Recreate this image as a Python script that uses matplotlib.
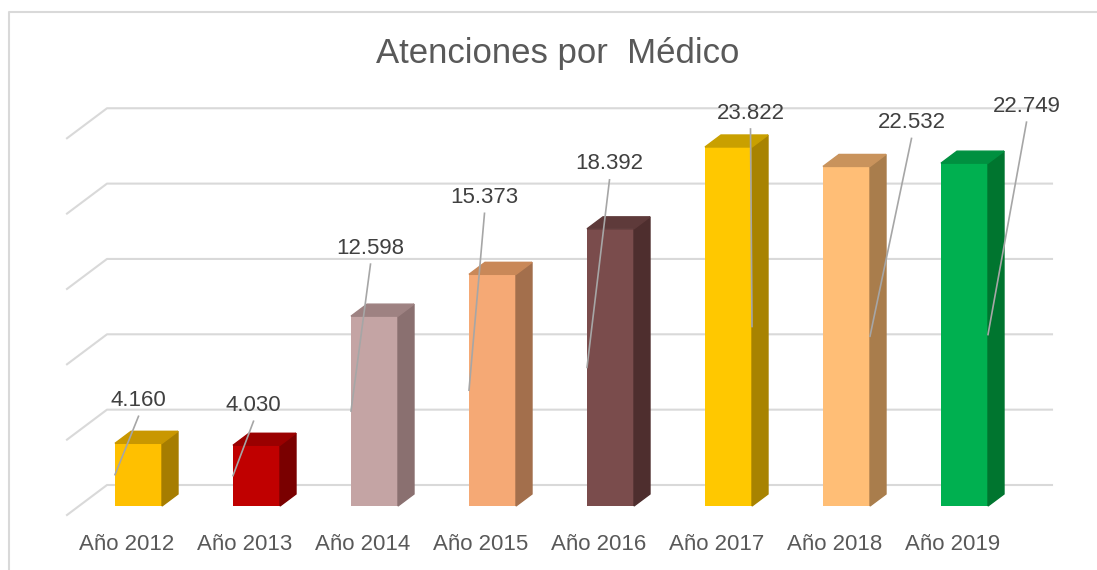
import numpy as np
import matplotlib.pyplot as plt
from matplotlib.patches import Polygon

plt.rcParams['font.family'] = ['Liberation Sans', 'DejaVu Sans']

# data
years = ['Año 2012', 'Año 2013', 'Año 2014', 'Año 2015',
         'Año 2016', 'Año 2017', 'Año 2018', 'Año 2019']
values = [4160, 4030, 12598, 15373, 18392, 23822, 22532, 22749]
front_colors = ['#FFC000', '#C00000', '#C4A4A4', '#F5A975',
                '#7A4C4C', '#FFC800', '#FFBE76', '#00B050']
side_colors = ['#A67D00', '#7A0000', '#8A7070', '#A36F4C',
               '#4E2E2E', '#A88300', '#A97D4C', '#00752F']
top_colors = ['#C99700', '#9A0000', '#9E8282', '#C98858',
              '#5E3A3A', '#C9A000', '#C9935C', '#009040']

# label placement (pixels from bar top centre) and leader side
label_off = [(0, 43), (-3, 40), (-4, 68), (-8, 77),
             (-1, 65), (22, 34), (65, 44), (62, 57)]
leader_side = [-1, -1, -1, -1, -1, 1, 1, 1]

W, H = 1097, 570
fig = plt.figure(figsize=(W / 100, H / 100), dpi=100)
ax = fig.add_axes([0, 0, 1, 1])

#pixel layout -> data units
x0_px, step_px = 138.5, 118.0
base_px, px_per_unit = 506.0, 0.01507
ax.set_xlim(-x0_px / step_px, (W - x0_px) / step_px)
ax.set_ylim((base_px - H) / px_per_unit, base_px / px_per_unit)
ax.axis('off')

def dx(px):
    return px / step_px

def dy(px):
    return px / px_per_unit

# chart border (only top and left visible)
ax.plot([9 / W, 9 / W, 1], [0, 1 - 12 / H, 1 - 12 / H], transform=ax.transAxes,
        color='#D9D9D9', lw=1.5, clip_on=False)

# back wall grid + floor diagonals
grid_vals = np.arange(0, 25001, 5000)
xl_g, xr_g, xd_g = dx(107 - x0_px), dx(1052 - x0_px), dx(67 - x0_px)
for g in grid_vals:
    yb = g + dy(21)
    ax.plot([xd_g, xl_g, xr_g], [yb - dy(30), yb, yb], color='#D9D9D9', lw=1.5, zorder=1)

# 3d bars
w = dx(47)
ddx, ddy = dx(16), dy(12)
for i, v in enumerate(values):
    xl, xr = i - w / 2, i + w / 2
    ax.bar(i, v, width=w, color=front_colors[i], zorder=3)
    ax.add_patch(Polygon([(xr, 0), (xr + ddx, ddy), (xr + ddx, v + ddy), (xr, v)],
                         closed=True, color=side_colors[i], zorder=3))
    ax.add_patch(Polygon([(xl, v), (xl + ddx, v + ddy), (xr + ddx, v + ddy), (xr, v)],
                         closed=True, color=top_colors[i], zorder=3))

    # data label + leader line
    lx = i + dx(label_off[i][0])
    ly = v + dy(label_off[i][1])
    txt = f'{v:,}'.replace(',', '.')
    ax.text(lx, ly, txt, ha='center', va='center', fontsize=16, color='#404040', zorder=5)
    ex = i + leader_side[i] * w / 2
    ax.plot([lx, ex], [ly - dy(16), v / 2], color='#A6A6A6', lw=1.2, zorder=4)

    # category label
    ax.text(i - dx(12), -dy(39), years[i], ha='center', va='center',
            fontsize=16, color='#595959')

fig.text(558 / W, 1 - 53 / H, 'Atenciones por  Médico', ha='center', va='center',
         fontsize=25, color='#595959')

fig.savefig('out.png', dpi=100)
